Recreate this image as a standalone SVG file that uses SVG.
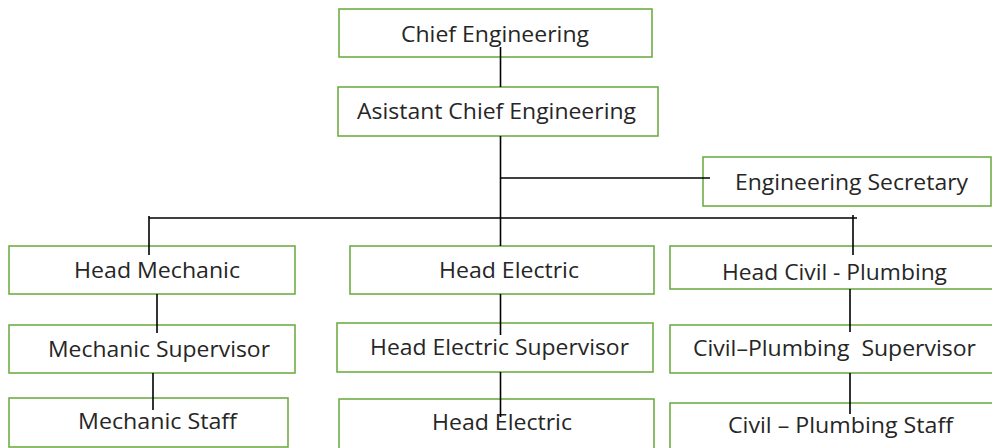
<svg xmlns="http://www.w3.org/2000/svg" width="992" height="448" viewBox="0 0 992 448">
<style>
.box{fill:#fff;stroke:#70ad47;stroke-width:1.6}
.t{font-family:"Open Sans","Liberation Sans",sans-serif;font-size:22px;fill:#262626}
.ln{stroke:#000;stroke-width:1.6;fill:none}
</style>
<defs>
<clipPath id="civclip"><rect x="670" y="246" width="330" height="41"/></clipPath>
</defs>
<rect width="992" height="448" fill="#fff"/>
<g id="n-chief"><rect class="box" x="339" y="9" width="313" height="48"/><text class="t" x="401" y="42" textLength="188" lengthAdjust="spacingAndGlyphs">Chief Engineering</text></g>
<g id="n-asst"><rect class="box" x="338" y="87" width="320" height="49"/><text class="t" x="357" y="119" textLength="279" lengthAdjust="spacingAndGlyphs">Asistant Chief Engineering</text></g>
<g id="n-sec"><rect class="box" x="703" y="157" width="288" height="49"/><text class="t" x="735" y="190" textLength="233" lengthAdjust="spacingAndGlyphs">Engineering Secretary</text></g>
<g id="n-hmech"><rect class="box" x="9" y="246" width="286" height="48"/><text class="t" x="74" y="278" textLength="166" lengthAdjust="spacingAndGlyphs">Head Mechanic</text></g>
<g id="n-msup"><rect class="box" x="9" y="325" width="286" height="48"/><text class="t" x="48" y="357" textLength="222" lengthAdjust="spacingAndGlyphs">Mechanic Supervisor</text></g>
<g id="n-mstaff"><rect class="box" x="9" y="398" width="279" height="49"/><text class="t" x="78" y="429" textLength="159" lengthAdjust="spacingAndGlyphs">Mechanic Staff</text></g>
<g id="n-helec"><rect class="box" x="350" y="246" width="304" height="48"/><text class="t" x="439" y="278" textLength="140" lengthAdjust="spacingAndGlyphs">Head Electric</text></g>
<g id="n-hesup"><rect class="box" x="337" y="323" width="316" height="49"/><text class="t" x="370" y="355" textLength="259" lengthAdjust="spacingAndGlyphs">Head Electric Supervisor</text></g>
<g id="n-helec2"><rect class="box" x="339" y="399" width="315" height="60"/><text class="t" x="432" y="430" textLength="140" lengthAdjust="spacingAndGlyphs">Head Electric</text></g>
<g id="n-hcivil"><rect class="box" x="670" y="246" width="330" height="43"/><text class="t" x="722" y="280" textLength="225" lengthAdjust="spacingAndGlyphs" clip-path="url(#civclip)">Head Civil - Plumbing</text></g>
<g id="n-csup"><rect class="box" x="670" y="325" width="330" height="48"/><text class="t" x="693" y="356" textLength="283" lengthAdjust="spacingAndGlyphs" xml:space="preserve">Civil–Plumbing  Supervisor</text></g>
<g id="n-cstaff"><rect class="box" x="670" y="403" width="330" height="60"/><text class="t" x="728" y="433" textLength="225" lengthAdjust="spacingAndGlyphs">Civil – Plumbing Staff</text></g>
<g id="connectors">
<path class="ln" d="M500.5 47V87"/>
<path class="ln" d="M500.5 136V246"/>
<path class="ln" d="M500.5 178H710"/>
<path class="ln" d="M149 218H857"/>
<path class="ln" d="M149 216V255"/>
<path class="ln" d="M853 215V255"/>
<path class="ln" d="M157 294V333"/>
<path class="ln" d="M153 373V410"/>
<path class="ln" d="M500.5 294V335"/>
<path class="ln" d="M500.5 372V417"/>
<path class="ln" d="M850 289V332"/>
<path class="ln" d="M850 373V414"/>
</g>
</svg>
